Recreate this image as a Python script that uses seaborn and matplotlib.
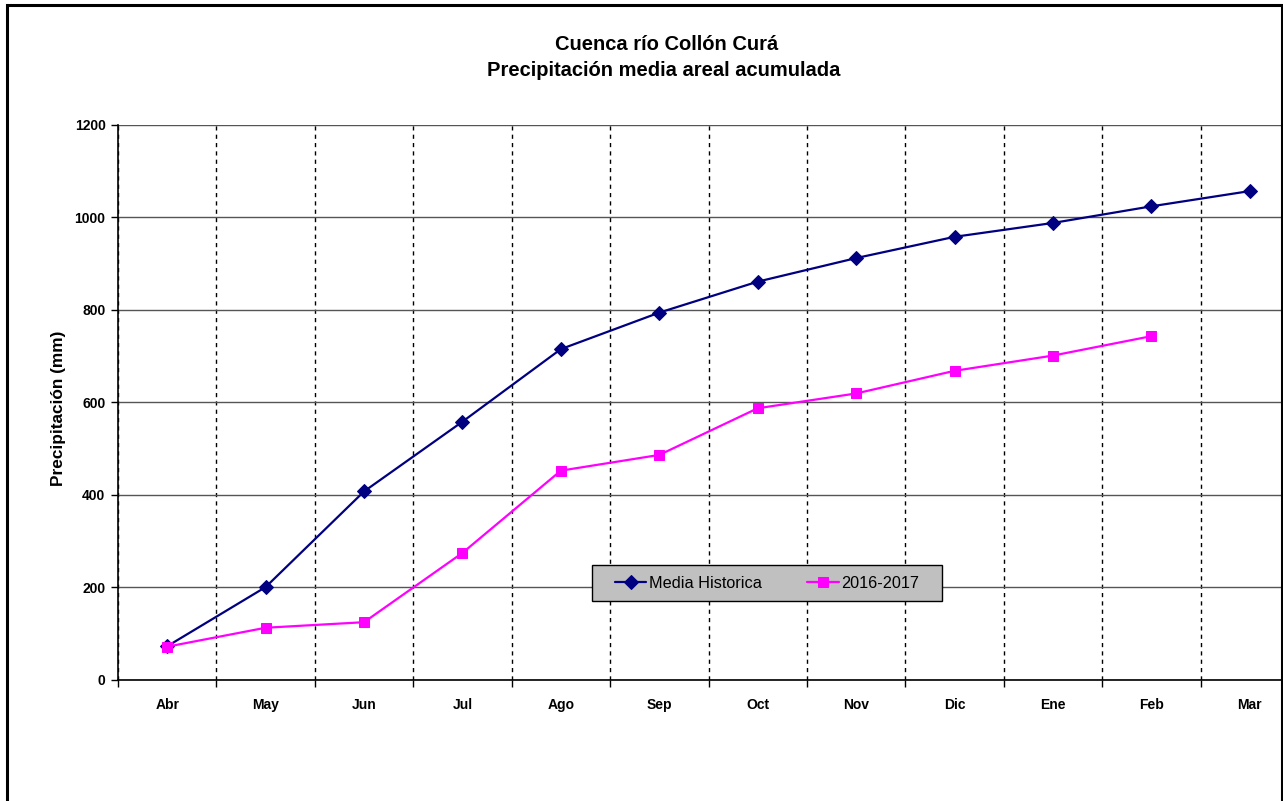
import matplotlib
matplotlib.use("Agg")
import matplotlib.pyplot as plt
from matplotlib.patches import Rectangle
from matplotlib.ticker import FixedLocator, MultipleLocator
import numpy as np
import pandas as pd
import seaborn as sns

# Months of the hydrological year (April to March)
meses = ["Abr", "May", "Jun", "Jul", "Ago", "Sep", "Oct", "Nov", "Dic", "Ene", "Feb", "Mar"]

# Accumulated areal mean precipitation (mm)
media_historica = [72, 200, 407, 558, 715, 794, 861, 912, 958, 988, 1024, 1057]
temporada_2016_2017 = [71, 112, 124, 274, 452, 486, 587, 619, 668, 701, 743]

serie_hist = "Media Historica"
serie_act = "2016-2017"

df_hist = pd.DataFrame({"mes": meses, "pp": media_historica})
df_act = pd.DataFrame({"mes": meses[:len(temporada_2016_2017)], "pp": temporada_2016_2017})

sns.set_theme(style="white")
plt.rcParams["font.family"] = ["Liberation Sans", "DejaVu Sans"]
plt.rcParams["text.color"] = "black"
plt.rcParams["axes.labelcolor"] = "black"
plt.rcParams["xtick.color"] = "black"
plt.rcParams["ytick.color"] = "black"

W, H = 1283, 801
fig = plt.figure(figsize=(W / 100, H / 100), dpi=100)

# Plot area in pixel coordinates
left_px, right_px, top_px, bottom_px = 118, 1299, 125, 679.5
ax = fig.add_axes([left_px / W, 1 - bottom_px / H,
                   (right_px - left_px) / W, (bottom_px - top_px) / H])

sns.lineplot(data=df_hist, x="mes", y="pp", ax=ax, color="#000080",
             marker="D", markersize=7.2, markeredgecolor="#000080",
             linewidth=1.6, label=serie_hist, sort=False, legend=False, zorder=5)
sns.lineplot(data=df_act, x="mes", y="pp", ax=ax, color="#FF00FF",
             marker="s", markersize=7.0, markeredgecolor="#FF00FF",
             linewidth=1.6, label=serie_act, sort=False, legend=False, zorder=5)

ax.set_xlim(-0.5, len(meses) - 0.5)
ax.set_ylim(0, 1200)

# Y axis
ax.yaxis.set_major_locator(MultipleLocator(200))
ax.tick_params(axis="y", which="major", direction="out", length=5, width=1,
               color="black", labelsize=10, pad=4, left=True, labelcolor="black")
for lbl in ax.get_yticklabels():
    lbl.set_fontweight("bold")
ax.grid(axis="y", which="major", color="#555555", linewidth=1.0, linestyle="-")

# X axis: labels centred on categories, ticks and dashed gridlines at boundaries
ax.set_xticks(range(len(meses)))
ax.set_xticklabels(meses, fontsize=10, fontweight="bold", color="black")
ax.tick_params(axis="x", which="major", length=0, pad=13)
ax.xaxis.set_minor_locator(FixedLocator(np.arange(-0.5, len(meses), 1.0)))
ax.tick_params(axis="x", which="minor", direction="out", length=5, width=1,
               color="black", bottom=True)
ax.grid(axis="x", which="minor", color="black", linewidth=1.0,
        linestyle=(0, (3, 3)))
ax.set_axisbelow(True)

for side in ["top", "right"]:
    ax.spines[side].set_visible(False)
for side in ["left", "bottom"]:
    ax.spines[side].set_color("black")
    ax.spines[side].set_linewidth(1.2)

ax.set_xlabel("")
ax.set_ylabel("")
fig.text(58 / W, 1 - 408 / H, "Precipitación (mm)", rotation=90, ha="center",
         va="center", fontsize=12.4, fontweight="bold")

# Title
fig.text(667 / W, 1 - 44 / H, "Cuenca río Collón Curá", ha="center", va="center",
         fontsize=14.5, fontweight="bold")
fig.text(664 / W, 1 - 71 / H, "Precipitación media areal acumulada", ha="center",
         va="center", fontsize=14.5, fontweight="bold")

# Legend box (grey panel) and entries on top of it
ax.add_patch(Rectangle((592 / W, 1 - 601 / H), 350 / W, 36 / H,
                       transform=fig.transFigure, facecolor="#C0C0C0",
                       edgecolor="black", linewidth=1.0, zorder=8, clip_on=False))
leg = ax.legend(ncol=2, loc="center", bbox_to_anchor=(767 / W, 1 - 583 / H),
                bbox_transform=fig.transFigure, fontsize=11.7, frameon=False,
                handlelength=1.95, handletextpad=0.15, columnspacing=2.8,
                borderpad=0.3)
leg.set_zorder(9)
for t in leg.get_texts():
    t.set_color("black")

# Chart frame
fig.patches.append(Rectangle((7 / W, -0.05), (1281.5 - 7) / W, 1.05 - 5.5 / H,
                             transform=fig.transFigure, fill=False,
                             edgecolor="black", linewidth=2.2, zorder=10))

fig.savefig("out.png", dpi=100, facecolor="white")
